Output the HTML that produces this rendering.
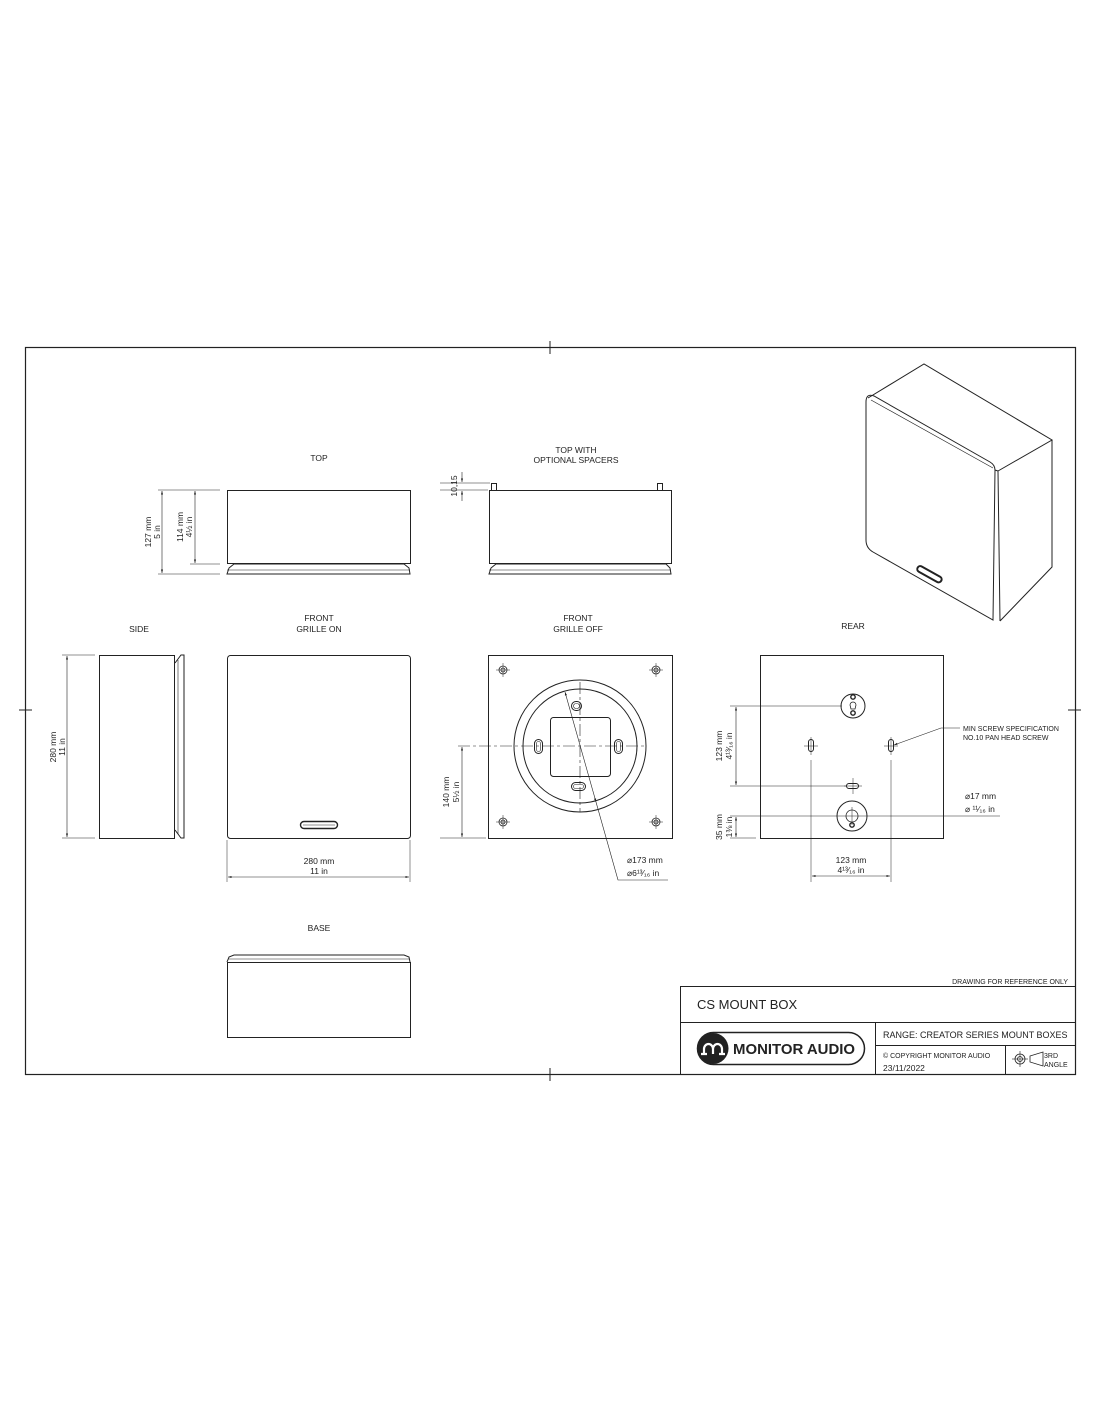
<!DOCTYPE html>
<html><head><meta charset="utf-8"><style>
html,body{margin:0;padding:0;background:#fff}
svg{display:block}
text{font-family:"Liberation Sans",sans-serif;fill:#222}
</style></head><body>
<svg width="1100" height="1422" viewBox="0 0 1100 1422" xmlns="http://www.w3.org/2000/svg">
<defs>
<marker id="a" viewBox="0 0 10 10" refX="10" refY="5" markerWidth="6" markerHeight="6" orient="auto-start-reverse"><path d="M0,2 L10,5 L0,8 z" fill="#222"/></marker>
</defs>
<g fill="none" stroke="#222" stroke-width="1">
<rect x="25.5" y="347.5" width="1050" height="727" stroke-width="1.2"/>
<line x1="550" y1="341" x2="550" y2="354"/><line x1="550" y1="1068" x2="550" y2="1081"/>
<line x1="19" y1="710" x2="32" y2="710"/><line x1="1068" y1="710" x2="1081" y2="710"/>

<rect x="227.5" y="490.5" width="183" height="73"/>
<path d="M227 574 L229 568 L234 564 L404 564 L409 568 L410 574 Z"/>
<line x1="227" y1="570" x2="410" y2="570" stroke-width="0.6"/>
<line x1="158" y1="490" x2="220" y2="490" stroke-width="0.5"/>
<line x1="158" y1="574" x2="220" y2="574" stroke-width="0.5"/>
<line x1="190" y1="564" x2="220" y2="564" stroke-width="0.5"/>
<line x1="162" y1="491" x2="162" y2="573" stroke-width="0.6" marker-start="url(#a)" marker-end="url(#a)"/>
<line x1="195" y1="491" x2="195" y2="563" stroke-width="0.6" marker-start="url(#a)" marker-end="url(#a)"/>

<rect x="489.5" y="490.5" width="182" height="73"/>
<path d="M489 574 L491 568 L496 564 L666 564 L670 568 L671 574 Z"/>
<line x1="489" y1="570" x2="671" y2="570" stroke-width="0.6"/>
<rect x="491.5" y="483.5" width="5" height="7"/>
<rect x="657.5" y="483.5" width="5" height="7"/>
<line x1="440" y1="483" x2="490" y2="483" stroke-width="0.5"/>
<line x1="440" y1="490" x2="488" y2="490" stroke-width="0.5"/>
<line x1="462" y1="472" x2="462" y2="482" stroke-width="0.6" marker-end="url(#a)"/>
<line x1="462" y1="501" x2="462" y2="491" stroke-width="0.6" marker-end="url(#a)"/>

<rect x="99.5" y="655.5" width="75" height="183"/>
<path d="M175 663 L181 655 L184 655 L184 838 L181 838 L175 830"/>
<line x1="178" y1="660" x2="178" y2="834" stroke-width="0.6"/>
<line x1="62" y1="655" x2="95" y2="655" stroke-width="0.5"/>
<line x1="62" y1="838" x2="95" y2="838" stroke-width="0.5"/>
<line x1="67" y1="656" x2="67" y2="837" stroke-width="0.6" marker-start="url(#a)" marker-end="url(#a)"/>

<rect x="227.5" y="655.5" width="183" height="183" rx="3"/>
<rect x="300.5" y="821.5" width="37" height="7" rx="3.5" stroke-width="1.4"/>
<line x1="303" y1="825" x2="335" y2="825" stroke-width="0.6"/>
<line x1="227" y1="840" x2="227" y2="882" stroke-width="0.5"/>
<line x1="410" y1="840" x2="410" y2="882" stroke-width="0.5"/>
<line x1="228" y1="877" x2="409" y2="877" stroke-width="0.6" marker-start="url(#a)" marker-end="url(#a)"/>

<rect x="488.5" y="655.5" width="184" height="183"/>
<circle cx="580" cy="746" r="66"/>
<circle cx="580" cy="746" r="57"/>
<rect x="550.5" y="717.5" width="60" height="59" rx="3"/>
<g stroke-width="0.6">
<line x1="580" y1="682" x2="580" y2="812" stroke-dasharray="12 3 3 3"/>
<line x1="458" y1="746" x2="645" y2="746" stroke-dasharray="12 3 3 3"/>
</g>
<g>
<rect x="571.5" y="701.5" width="10" height="9" rx="4.5"/><rect x="573.5" y="703.5" width="6" height="5" rx="2.5" stroke-width="0.6"/>
<rect x="534.5" y="739.5" width="8" height="14" rx="4"/><rect x="536.5" y="741.5" width="4" height="10" rx="2" stroke-width="0.6"/>
<rect x="614.5" y="739.5" width="8" height="14" rx="4"/><rect x="616.5" y="741.5" width="4" height="10" rx="2" stroke-width="0.6"/>
<rect x="571.5" y="782.5" width="14" height="8" rx="4"/><rect x="573.5" y="784.5" width="10" height="4" rx="2" stroke-width="0.6"/>
</g>
<g stroke-width="0.8">
<circle cx="503" cy="670" r="4"/><circle cx="503" cy="670" r="2"/>
<circle cx="656" cy="670" r="4"/><circle cx="656" cy="670" r="2"/>
<circle cx="503" cy="822" r="4"/><circle cx="503" cy="822" r="2"/>
<circle cx="656" cy="822" r="4"/><circle cx="656" cy="822" r="2"/>
</g>
<g stroke-width="0.5">
<line x1="496" y1="670" x2="510" y2="670"/><line x1="503" y1="663" x2="503" y2="677"/>
<line x1="649" y1="670" x2="663" y2="670"/><line x1="656" y1="663" x2="656" y2="677"/>
<line x1="496" y1="822" x2="510" y2="822"/><line x1="503" y1="815" x2="503" y2="829"/>
<line x1="649" y1="822" x2="663" y2="822"/><line x1="656" y1="815" x2="656" y2="829"/>
</g>
<line x1="565" y1="692" x2="596" y2="802" stroke-width="0.6" marker-start="url(#a)" marker-end="url(#a)"/>
<polyline points="596,802 618,880 668,880" stroke-width="0.6"/>
<line x1="440" y1="838" x2="486" y2="838" stroke-width="0.5"/>
<line x1="462" y1="747" x2="462" y2="837" stroke-width="0.6" marker-start="url(#a)" marker-end="url(#a)"/>

<rect x="760.5" y="655.5" width="183" height="183"/>
<circle cx="853" cy="706" r="12"/>
<circle cx="853" cy="697" r="2.2" stroke-width="1.4"/><circle cx="853" cy="713" r="2.2" stroke-width="1.4"/>
<path d="M850 705 a3 3 0 1 1 6 0 l-1 4 h-4 z" stroke-width="0.8"/>
<rect x="808.5" y="739.5" width="5" height="12" rx="2.5"/>
<rect x="888.5" y="739.5" width="5" height="12" rx="2.5"/>
<rect x="846.5" y="783.5" width="12" height="5" rx="2.5"/>
<g stroke-width="0.5">
<line x1="804" y1="746" x2="818" y2="746"/><line x1="811" y1="737" x2="811" y2="755"/>
<line x1="884" y1="746" x2="898" y2="746"/><line x1="891" y1="737" x2="891" y2="755"/>
<line x1="844" y1="786" x2="862" y2="786"/><line x1="853" y1="778" x2="853" y2="794"/>
<line x1="811" y1="760" x2="811" y2="882"/><line x1="891" y1="760" x2="891" y2="882"/>
<line x1="730" y1="706" x2="842" y2="706"/>
<line x1="730" y1="786" x2="846" y2="786"/>
<line x1="730" y1="816" x2="1000" y2="816"/>
<line x1="730" y1="838" x2="756" y2="838"/>
</g>
<circle cx="852" cy="816" r="15"/>
<circle cx="852" cy="816" r="6" stroke-width="0.8"/>
<circle cx="852" cy="825" r="2.2" stroke-width="1.4"/>
<line x1="852" y1="807" x2="852" y2="825" stroke-width="0.5"/>
<line x1="736" y1="707" x2="736" y2="785" stroke-width="0.6" marker-start="url(#a)" marker-end="url(#a)"/>
<line x1="736" y1="817" x2="736" y2="837" stroke-width="0.6" marker-start="url(#a)" marker-end="url(#a)"/>
<line x1="812" y1="876" x2="890" y2="876" stroke-width="0.6" marker-start="url(#a)" marker-end="url(#a)"/>
<polyline points="960,728 941,728 894,745" stroke-width="0.6" marker-end="url(#a)"/>

<rect x="227.5" y="962.5" width="183" height="75"/>
<path d="M227 962 L229 957 L234 955 L404 955 L409 957 L410 962"/>
<line x1="228" y1="959" x2="409" y2="959" stroke-width="0.6"/>

<path d="M868 398 L924 364 L1052 440 L998 471"/>
<path d="M1052 440 L1052 567 L1000 621"/>
<path d="M866 402 L866 540 Q866 548 873 552 L993 620 L995 470 Q995 465 990 462 L874 396 Q866 393 866 402 Z"/>
<path d="M871 400 L993 468" stroke-width="0.7"/>
<path d="M998 471 L1000 621 M995 470 L998 471"/>
<rect x="916" y="571" width="27" height="6" rx="3" transform="rotate(29 929 574)" stroke-width="2"/>

<rect x="680.5" y="986.5" width="395" height="88"/>
<line x1="680" y1="1022.5" x2="1075" y2="1022.5"/>
<line x1="875.5" y1="1022" x2="875.5" y2="1074"/>
<line x1="875" y1="1045.5" x2="1075" y2="1045.5"/>
<line x1="1005.5" y1="1045" x2="1005.5" y2="1074"/>
<rect x="697.5" y="1032.5" width="167" height="32" rx="16" stroke-width="1.5"/>
<circle cx="1020" cy="1059" r="5" stroke-width="0.8"/><circle cx="1020" cy="1059" r="2.5" stroke-width="0.8"/>
<line x1="1012" y1="1059" x2="1028" y2="1059" stroke-width="0.6"/><line x1="1020" y1="1051" x2="1020" y2="1067" stroke-width="0.6"/>
<path d="M1030 1056 L1043 1052 L1043 1066 L1030 1062 Z" stroke-width="0.8"/>
</g>
<circle cx="713" cy="1048.5" r="15.5" fill="#222"/>
<path d="M704 1054 L704 1049 A4.5 5 0 0 1 713 1049 A4.5 5 0 0 1 722 1049 L722 1054 M701 1054 L707 1054 M719 1054 L725 1054 M713 1049 L713 1054" fill="none" stroke="#fff" stroke-width="2.2"/>

<g font-size="8.5" text-anchor="middle">
<text x="319" y="461">TOP</text>
<text x="576" y="453">TOP WITH</text><text x="576" y="463">OPTIONAL SPACERS</text>
<text x="139" y="632">SIDE</text>
<text x="319" y="621">FRONT</text><text x="319" y="632">GRILLE ON</text>
<text x="578" y="621">FRONT</text><text x="578" y="632">GRILLE OFF</text>
<text x="853" y="629">REAR</text>
<text x="319" y="931">BASE</text>
<text x="319" y="864">280 mm</text><text x="319" y="874">11 in</text>
<text x="851" y="863">123 mm</text><text x="851" y="873">4¹³⁄₁₆ in</text>
</g>
<g font-size="8.5" text-anchor="middle">
<text transform="translate(151,532) rotate(-90)">127 mm</text>
<text transform="translate(160,532) rotate(-90)">5 in</text>
<text transform="translate(183,527) rotate(-90)">114 mm</text>
<text transform="translate(192,527) rotate(-90)">4½ in</text>
<text transform="translate(457,486) rotate(-90)">10,15</text>
<text transform="translate(56,747) rotate(-90)">280 mm</text>
<text transform="translate(65,747) rotate(-90)">11 in</text>
<text transform="translate(449,792) rotate(-90)">140 mm</text>
<text transform="translate(459,792) rotate(-90)">5½ in</text>
<text transform="translate(722,746) rotate(-90)">123 mm</text>
<text transform="translate(732,746) rotate(-90)">4¹³⁄₁₆ in</text>
<text transform="translate(722,827) rotate(-90)">35 mm</text>
<text transform="translate(732,827) rotate(-90)">1⅜ in</text>
</g>
<g font-size="8.5">
<text x="627" y="863">⌀173 mm</text><text x="627" y="876">⌀6¹³⁄₁₆ in</text>
<text x="965" y="799">⌀17 mm</text><text x="965" y="812">⌀ ¹¹⁄₁₆ in</text>
</g>
<g font-size="7">
<text x="963" y="731">MIN SCREW SPECIFICATION</text>
<text x="963" y="740">NO.10 PAN HEAD SCREW</text>
<text x="1068" y="984" text-anchor="end">DRAWING FOR REFERENCE ONLY</text>
<text x="883" y="1058">© COPYRIGHT MONITOR AUDIO</text>
<text x="1044" y="1058">3RD</text><text x="1044" y="1067">ANGLE</text>
</g>
<text x="697" y="1009" font-size="13">CS MOUNT BOX</text>
<text x="883" y="1038" font-size="9">RANGE: CREATOR SERIES MOUNT BOXES</text>
<text x="883" y="1071" font-size="8.5">23/11/2022</text>
<text x="733" y="1054" font-size="15" textLength="122" lengthAdjust="spacingAndGlyphs" style="font-weight:bold">MONITOR AUDIO</text>
</svg>
</body></html>
